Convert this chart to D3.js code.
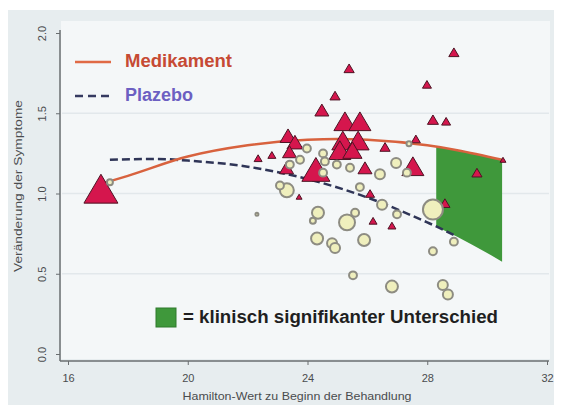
<!DOCTYPE html>
<html><head><meta charset="utf-8">
<script src="https://cdn.jsdelivr.net/npm/d3@7"></script>
<style>html,body{margin:0;padding:0;background:#fff;}svg{display:block;font-family:"Liberation Sans",Arial,sans-serif;}</style>
</head><body>
<script>
// ---- data ----
const xTicks = [16, 20, 24, 28, 32];
const yTicks = [0.0, 0.5, 1.0, 1.5, 2.0];
const xLabel = "Hamilton-Wert zu Beginn der Behandlung";
const yLabel = "Veränderung der Symptome";
const legendDrug = "Medikament";
const legendPlacebo = "Plazebo";
const legendSig = "= klinisch signifikanter Unterschied";

// Medikament (drug) group: [hamilton, change, weight]
const drugPoints = [
  [17.10,1.03,10],[22.35,1.22,0.55],[22.81,1.24,0.55],[23.35,1.36,2.2],[23.58,1.32,2.2],
  [23.40,1.26,1.7],[23.30,1.16,1.7],[24.28,1.15,6.8],[24.48,1.52,1.7],[24.92,1.61,0.9],
  [25.39,1.78,0.9],[25.25,1.45,4.2],[25.75,1.45,4.2],[25.18,1.33,4.2],[25.69,1.33,4.2],
  [25.08,1.27,4.2],[25.50,1.27,3.2],[26.59,1.29,0.9],[25.92,1.16,1.7],[26.09,1.00,0.7],
  [23.72,0.98,0.3],[26.19,0.83,0.55],[26.82,0.80,0.55],[28.89,1.88,0.9],[27.99,1.68,0.7],
  [28.19,1.46,1.05],[28.63,1.45,0.7],[27.62,1.34,0.7],[27.52,1.17,4.2],[29.66,1.13,0.9],
  [30.53,1.21,0.3],[28.59,0.94,0.9]
];
// Plazebo group: [hamilton, change, weight]
const placeboPoints = [
  [17.40,1.07,1.1],[22.31,0.87,0.4],[23.98,1.28,1.7],[23.75,1.21,1.7],[23.41,1.18,1.7],
  [24.52,1.25,1.7],[24.58,1.20,1.7],[24.98,1.18,1.7],[25.42,1.16,1.7],[24.52,1.13,1.7],
  [23.31,1.02,4.4],[23.08,1.05,1.7],[25.75,1.04,1.7],[24.35,0.88,3.4],[24.18,0.83,1.1],
  [25.32,0.82,5.6],[25.59,0.88,1.7],[24.32,0.72,3.4],[24.82,0.69,2.5],[24.92,0.66,2.5],
  [25.89,0.71,3.4],[25.52,0.49,1.7],[26.82,0.42,3.4],[28.52,0.43,2.5],[28.69,0.37,2.5],
  [28.19,0.64,1.7],[28.89,0.70,1.7],[28.19,0.90,8.4],[26.49,0.93,2.5],[26.99,0.87,1.7],
  [26.96,1.19,2.5],[26.42,1.12,2.5],[27.32,1.13,1.7],[27.39,1.31,0.85]
];
// fitted curves
const drugFit = [[17.1,1.06],[18,1.11],[20,1.23],[22,1.30],[24,1.335],[25,1.34],[26,1.335],[28,1.30],[29,1.27],[30.5,1.21]];
const placeboFit = [[17.4,1.21],[19,1.215],[20,1.205],[22,1.167],[24,1.09],[26,0.975],[28,0.82],[28.3,0.795],[29,0.73]];
// clinically significant region (top = Medikament fit, bottom = Plazebo fit)
const sigTop = [[28.3,1.29],[29,1.27],[29.5,1.25],[30,1.23],[30.5,1.21]];
const sigBottom = [[28.3,0.795],[29,0.73],[29.5,0.68],[30,0.63],[30.5,0.575]];

// ---- drawing ----
const W = 563, H = 405;
const svg = d3.select("body").append("svg").attr("width", W).attr("height", H);

const x = d3.scaleLinear().domain([16, 32]).range([68, 547]);
const y = d3.scaleLinear().domain([0, 2]).range([354, 33]);
const triSide = d3.scaleSqrt().domain([0, 10]).range([0, 34]);
const circR = d3.scaleSqrt().domain([0, 10]).range([0, 12]);

// backgrounds
svg.append("rect").attr("x", 0).attr("y", 0).attr("width", W).attr("height", H).attr("fill", "#ffffff");
svg.append("rect").attr("x", 8).attr("y", 10).attr("width", 546).attr("height", 395).attr("fill", "#e7edef");
svg.append("rect").attr("x", 61).attr("y", 21).attr("width", 489).attr("height", 338).attr("fill", "#f4f7f8");

// gridlines
svg.append("g").selectAll("line").data(yTicks.filter(d => d > 0 && d < 2)).join("line")
  .attr("x1", 62).attr("x2", 549).attr("y1", d => y(d)).attr("y2", d => y(d))
  .attr("stroke", "#e2e8eb").attr("stroke-width", 1.5);

// significance region
const area = d3.area().x(d => x(d[0])).y0((d, i) => y(sigBottom[i][1])).y1(d => y(d[1]));
svg.append("path").datum(sigTop).attr("d", area).attr("fill", "#3f983b");

// axes
const xAxis = svg.append("g").attr("transform", "translate(0,361)")
  .call(d3.axisBottom(x).tickValues(xTicks).tickFormat(d3.format("d")).tickSize(4).tickSizeOuter(0));
const yAxis = svg.append("g").attr("transform", "translate(60,0)")
  .call(d3.axisLeft(y).tickValues(yTicks).tickFormat(d3.format(".1f")).tickSize(4).tickSizeOuter(0));
[xAxis, yAxis].forEach(g => {
  g.select(".domain").attr("stroke", "#6a6e70").attr("stroke-width", 1.5);
  g.selectAll(".tick line").attr("stroke", "#6a6e70");
  g.selectAll("text").attr("fill", "#4a4c4e").attr("font-size", 11).attr("font-family", "Liberation Sans, Arial, sans-serif");
});
xAxis.select(".domain").attr("d", "M60,0H549");
yAxis.select(".domain").attr("d", "M0,361V30");
xAxis.selectAll(".tick text").attr("dy", "1.25em");
yAxis.selectAll(".tick text").attr("transform", "rotate(-90)").attr("x", 0).attr("y", -14)
  .attr("text-anchor", "middle").attr("dy", 0);

// axis titles
svg.append("text").attr("x", 297).attr("y", 400).attr("text-anchor", "middle")
  .attr("font-size", 11.5).attr("fill", "#4a4c4e").attr("textLength", 229).attr("lengthAdjust", "spacingAndGlyphs").text(xLabel);
svg.append("text").attr("transform", "translate(22,186) rotate(-90)").attr("text-anchor", "middle")
  .attr("font-size", 11.5).attr("fill", "#4a4c4e").attr("textLength", 172).attr("lengthAdjust", "spacingAndGlyphs").text(yLabel);

// fit lines
const line = d3.line().x(d => x(d[0])).y(d => y(d[1])).curve(d3.curveMonotoneX);
svg.append("path").datum(placeboFit).attr("d", line).attr("fill", "none")
  .attr("stroke", "#2f3557").attr("stroke-width", 2.5).attr("stroke-dasharray", "8,4");
svg.append("path").datum(drugFit).attr("d", line).attr("fill", "none")
  .attr("stroke", "#d8623e").attr("stroke-width", 2.5);

// triangles (drug)
const tri = s => { const h = s * 0.85; return `M0,${-h/2}L${s/2},${h/2}L${-s/2},${h/2}Z`; };
svg.append("g").selectAll("path").data(drugPoints).join("path")
  .attr("transform", d => `translate(${x(d[0])},${y(d[1])})`)
  .attr("d", d => tri(triSide(d[2])))
  .attr("fill", "#d5164d").attr("stroke", "#4d1424").attr("stroke-width", 1);

// circles (placebo)
svg.append("g").selectAll("circle").data(placeboPoints).join("circle")
  .attr("cx", d => x(d[0])).attr("cy", d => y(d[1])).attr("r", d => Math.max(1.5, circR(d[2]) - 1))
  .attr("fill", "#efefbd").attr("stroke", "#8d8c82").attr("stroke-width", 2);

// legend
const lg = svg.append("g");
lg.append("line").attr("x1", 75).attr("x2", 111).attr("y1", 62).attr("y2", 62).attr("stroke", "#e06a45").attr("stroke-width", 2.5);
lg.append("text").attr("x", 125).attr("y", 67).attr("font-size", 18).attr("font-weight", "bold").attr("fill", "#c64a34")
  .attr("textLength", 107).attr("lengthAdjust", "spacingAndGlyphs").text(legendDrug);
lg.append("line").attr("x1", 75).attr("x2", 112).attr("y1", 96).attr("y2", 96).attr("stroke", "#353a60").attr("stroke-width", 2.5).attr("stroke-dasharray", "8,5");
lg.append("text").attr("x", 125).attr("y", 101).attr("font-size", 18).attr("font-weight", "bold").attr("fill", "#6c5fc2")
  .attr("textLength", 68).attr("lengthAdjust", "spacingAndGlyphs").text(legendPlacebo);
lg.append("rect").attr("x", 156).attr("y", 308).attr("width", 20).attr("height", 19).attr("fill", "#3f983b").attr("stroke", "#2f7a2c");
lg.append("text").attr("x", 183).attr("y", 323).attr("font-size", 17.5).attr("font-weight", "bold").attr("fill", "#1f1f1f")
  .attr("textLength", 315).attr("lengthAdjust", "spacingAndGlyphs").text(legendSig);
</script>
</body></html>
